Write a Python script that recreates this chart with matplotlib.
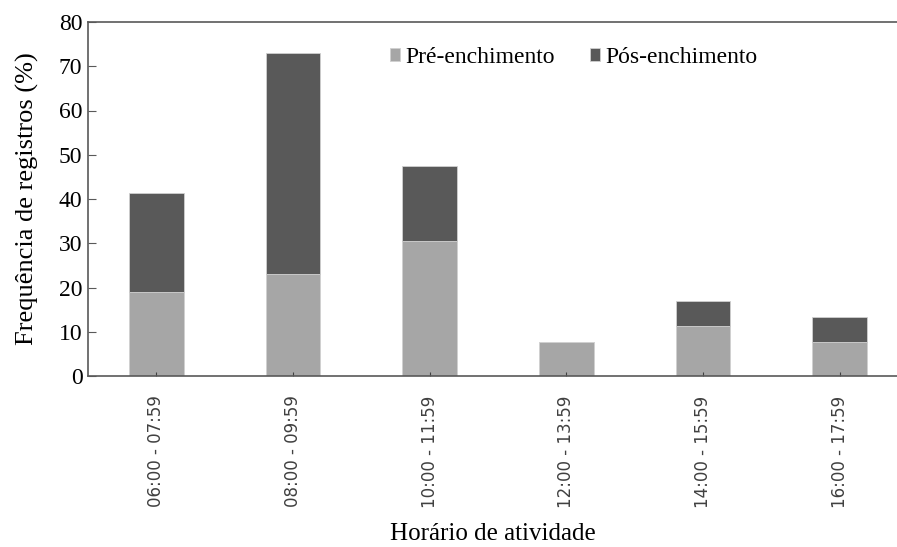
from matplotlib import pyplot as plt
import numpy as np

horarios = ["06:00 - 07:59", "08:00 - 09:59", "10:00 - 11:59",
            "12:00 - 13:59", "14:00 - 15:59", "16:00 - 17:59"]
pre = [18.9, 23.1, 30.6, 7.6, 11.4, 7.6]
pos = [22.5, 50.0, 16.9, 0.0, 5.6, 5.7]

serif = "Liberation Serif"
fig = plt.figure(figsize=(8.97, 5.47), dpi=100)
ax = fig.add_axes([88/897, 171/547, 809/897, 354/547])

x = np.arange(len(horarios))
ax.bar(x, pre, width=0.4, color="#a6a6a6", edgecolor="#d0d0d0", linewidth=0.6, label="Pré-enchimento")
ax.bar(x, pos, width=0.4, bottom=pre, color="#595959", edgecolor="#d0d0d0", linewidth=0.6, label="Pós-enchimento")

ax.set_xlim(-0.5, 5.42)
ax.set_ylim(0, 80)
ax.set_yticks(range(0, 81, 10))
ax.set_xticks(x)
ax.set_xticklabels(horarios, rotation=90, fontfamily="DejaVu Sans", fontsize=12, color="#404040")
for lab in ax.get_yticklabels():
    lab.set_fontfamily(serif)
    lab.set_fontsize(17)
ax.tick_params(axis="y", direction="in", length=6, color="#595959", pad=4)
ax.tick_params(axis="x", direction="in", length=3, color="#404040", pad=14)

for s in ["left", "bottom", "top"]:
    ax.spines[s].set_color("#595959")
    ax.spines[s].set_linewidth(1.2)
ax.spines["right"].set_visible(False)

ax.set_ylabel("Frequência de registros (%)", fontfamily=serif, fontsize=19, labelpad=14)
ax.set_xlabel("Horário de atividade", fontfamily=serif, fontsize=18, labelpad=11)

ax.legend(loc="upper center", bbox_to_anchor=(0.6, 0.99), ncol=2, frameon=False,
          prop={"family": serif, "size": 17}, handlelength=0.45, handleheight=0.45,
          handletextpad=0.2, columnspacing=1.5)

plt.savefig("out.png")
plt.close()
